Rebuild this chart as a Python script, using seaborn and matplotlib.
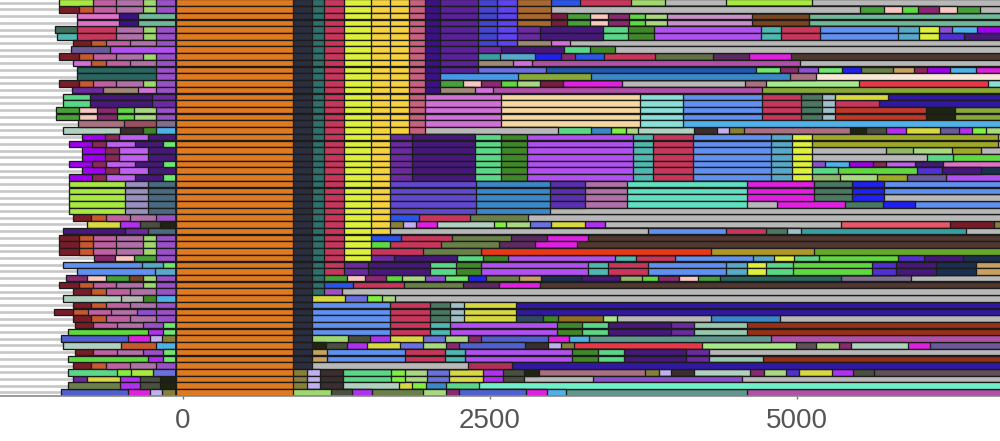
import numpy as np
import pandas as pd
import matplotlib.pyplot as plt
import seaborn as sns

palette = {
    "orange": "#e07a20", "dark": "#2a2e3e", "teal": "#2f6f6c", "crimson": "#c9365c",
    "ylime": "#dcf03c", "gold": "#f5d23e", "rose": "#c8607f", "indigo": "#3a1285",
    "purple": "#5a2298", "blue": "#4444d0", "blue2": "#5e44f0", "brown": "#a8682e",
    "royal": "#2a55e8", "lgreen": "#a0d870", "grey": "#b8b8b8", "ylgreen": "#a8e840",
    "mauve": "#b070a8", "plum": "#c060a0", "leftpurple": "#9a50c8", "rust": "#c85830",
    "darkred": "#7a1c28", "pink": "#e070c8", "tealgreen": "#70b898", "dksage": "#3f6f5a",
    "aqua": "#4fb8b0", "slate": "#6a5a9a", "violet": "#b050f0", "dkteal": "#2a6560",
    "orchid": "#d070d8", "taupe": "#a08878", "dkviolet": "#6a2aa0", "deep": "#45187a",
    "seagreen": "#5ad888", "lgreen2": "#a8d880", "lime": "#60d840", "magdk": "#8a2870",
    "palepink": "#f8c8c0", "green": "#48a038", "slategrey": "#807090", "brick": "#9a5060",
    "dusty": "#a87080", "sky": "#50b0e8", "dkgreen": "#3f8828", "dkbrown": "#3a2e2e",
    "pale": "#b0d0c0", "vivid": "#a000f0", "maroon": "#8a2858", "orchid2": "#c060f0",
    "bright": "#70e870", "slateteal": "#4a6a80", "lavgrey": "#9a90c0", "nearblack": "#1e2410",
    "dim": "#4a5040", "yellow": "#d8d840", "cornflower": "#6090f0", "skyteal": "#58a8c8",
    "magenta": "#e020e0", "olive": "#888038", "lavender": "#c0b0f0", "royal2": "#5060d0",
    "periw": "#6a70e0", "blime": "#80f040", "purple2": "#8a50d0", "brown2": "#7a4420",
    "plumdk": "#6a2c68", "vivid2": "#b030f0", "steel": "#3a88c8", "pureblue": "#2020f0",
    "olivegray": "#607048", "dkplum": "#5a2a60", "plumpurple": "#b050a8", "bluedeep": "#2058b0",
    "olivegreen": "#6a8048", "tan": "#c8a060", "skyblue": "#4898e8", "moss": "#88a838",
    "cream": "#f8e8d8", "red": "#e83848", "wheat": "#f4d8a0", "aqua2": "#88e0d8",
    "dksea": "#4a7860", "palebg": "#a0c0c8", "navy": "#3018a0", "brickred": "#c03828",
    "sage": "#90b868", "blueviol": "#5030d0", "navydk": "#1a3050", "oliveyel": "#a0a828",
    "mauve2": "#c890c8", "maroon2": "#781c40", "aquagreen": "#60e0c0", "blueviol2": "#6048d0",
    "indigo2": "#5830b0", "dkbrown2": "#503830", "salmon": "#e85868", "redor": "#e83818",
    "mustard": "#b09828", "green3": "#68a828", "teal3": "#38a0a0", "slatenavy": "#304860",
    "browngold": "#907020", "lgreen3": "#a8e888", "seateal": "#609890", "redbrown": "#983018",
    "greybrown": "#605058", "aquabright": "#70f0c8", "sagegreen": "#98c8b0", "crimson2": "#b03058",
    "dkolive": "#484030",
}

# --- left of the stack start, listed from the inside out
left_std = [("leftpurple", 158), ("lgreen", 109), ("mauve", 220), ("plum", 187), ("rust", 117), ("darkred", 160)]
left_short = [("leftpurple", 158), ("mauve", 212), ("plum", 196), ("rust", 122), ("darkred", 147)]
left_first = left_std[:4] + [("ylgreen", 274)]
left_pink = [("tealgreen", 310), ("indigo", 152), ("pink", 340)]
left_crim_a = left_std[:3] + [("crimson", 318), ("dksage", 174)]
left_crim_b = left_std[:3] + [("crimson", 318), ("aqua", 160)]
left_violet = [("violet", 533), ("slate", 321)]
left_orchid = left_short[:4] + [("orchid", 147)]
left_dkteal = [("leftpurple", 158), ("dkteal", 649)]
left_taupe = [("leftpurple", 158), ("orchid", 152), ("taupe", 285), ("dkviolet", 253)]
left_deep = [("dkviolet", 190), ("deep", 511), ("seagreen", 215)]
left_lime = [("leftpurple", 158), ("lgreen2", 182), ("lime", 136), ("magdk", 166), ("palepink", 149), ("green", 187)]
left_brick = [("slategrey", 158), ("brick", 261), ("dusty", 375)]
left_pale = [("sky", 158), ("dkgreen", 109), ("dkbrown", 190), ("pale", 459)]
left_vivid_a = [("deep", 226), ("orchid2", 239), ("maroon", 109), ("vivid", 185)]
left_vivid_b = [("bright", 103), ("deep", 231), ("orchid2", 236), ("maroon", 111), ("vivid", 185)]
left_yl = [("slateteal", 224), ("lavgrey", 185), ("ylgreen", 459)]
left_near = [("nearblack", 130), ("dim", 163), ("vivid2", 163), ("yellow", 269)]
left_slate = [("slateteal", 224), ("dkviolet", 185), ("deep", 511)]
left_mag = [("leftpurple", 158), ("green", 182), ("palepink", 152), ("magdk", 171)]
left_corn_a = [("bright", 103), ("skyteal", 174), ("cornflower", 638)]
left_corn_b = [("skyteal", 168), ("cornflower", 638)]
left_brown = [("leftpurple", 158), ("lgreen", 109), ("brown2", 114), ("green", 185), ("palepink", 158), ("magdk", 166)]
left_grey = [("sky", 158), ("dkgreen", 109), ("grey", 182), ("pale", 467)]
left_wide = [("leftpurple", 158), ("purple2", 155), ("mauve", 217), ("plum", 185), ("rust", 122), ("darkred", 155)]
left_bright = [("bright", 103), ("leftpurple", 163), ("mauve", 209), ("plum", 198), ("darkred", 147)]
left_bl = [("bright", 103), ("vivid2", 122), ("lime", 655)]
left_royal = [("olive", 111), ("lavender", 100), ("magenta", 177), ("royal2", 549)]
left_rust = [("sky", 158), ("rust", 291), ("pale", 467)]
left_periw = [("periw", 185), ("ylgreen", 182), ("blime", 109), ("seagreen", 399)]
left_near_b = left_near + [("dkviolet", 114)]
left_near_c = left_near[:3] + [("olivegreen", 418)]

left_rows = [
    left_first, left_std, left_pink, left_pink, left_crim_a, left_crim_b, left_short, left_violet,
    left_std, left_orchid, left_dkteal, left_dkteal, left_std, left_taupe, left_deep, left_deep,
    left_lime, left_lime, left_brick, left_pale, left_vivid_a, left_vivid_b, left_vivid_a, left_vivid_a,
    left_vivid_b, left_vivid_a, left_vivid_b, left_yl, left_yl, left_yl, left_yl, left_yl,
    left_short, left_near, left_slate, left_std, left_std, left_std, left_mag, left_corn_a,
    left_corn_b, left_brown, left_std, left_short, left_grey, left_short, left_wide, left_short,
    left_bright, left_bl, left_royal, left_rust, left_bright, left_bl, left_short, left_periw,
    left_near_b, left_near_c, left_royal,
]

# --- right of the stack start, first column is always the orange one
core_o = [("orange", 960), ("dark", 152)]
core_t = core_o + [("teal", 101)]
core_z = core_t + [("crimson", 163)]
core_y = core_z + [("ylime", 220)]
core_c = core_y + [("gold", 149)]
core_a = core_c + [("gold", 155), ("rose", 136)]
core_i = core_a + [("indigo", 117)]
core_p = core_i + [("purple", 315)]
core_b = core_p + [("blue", 152), ("blue2", 166)]

r00 = core_b + [("brown", 274), ("royal", 236), ("crimson", 418), ("lgreen", 272), ("grey", 503), ("ylgreen", 693), ("grey", 1549)]
r01 = core_b + [("brown", 274), ("grey", 2516), ("green", 193), ("palepink", 147), ("lime", 130), ("magdk", 171), ("palepink", 147), ("green", 193), ("grey", 174)]
r02 = core_b + [("brown", 274), ("maroon2", 128), ("green", 190), ("palepink", 144), ("magdk", 174), ("lime", 133), ("lgreen2", 177), ("mauve2", 693), ("brown2", 465), ("tealgreen", 1568)]
mid_045 = [("dkviolet", 185), ("deep", 508), ("seagreen", 204), ("dkgreen", 212), ("violet", 872), ("aqua", 168), ("crimson", 318), ("cornflower", 636), ("skyteal", 171), ("ylime", 160)]
r04 = core_b + mid_045 + [("purple2", 106), ("sky", 206), ("vivid", 198)]
r05 = core_b + mid_045 + [("blueviol", 206), ("deep", 304)]
r06 = core_b + [("taupe", 277), ("orchid", 155), ("grey", 3513)]
r07 = core_p + [("dkviolet", 185), ("deep", 508), ("seagreen", 212), ("dkgreen", 206), ("grey", 3152)]
r08 = core_p + [("teal3", 174), ("skyteal", 283), ("pureblue", 215), ("magdk", 111), ("royal", 242), ("crimson", 416), ("olivegray", 473), ("dkplum", 291), ("magenta", 342), ("dkbrown2", 1717)]
r09 = core_p + [("taupe", 285), ("orchid", 149), ("plumpurple", 2184), ("grey", 1644)]
r10 = core_p + [("periw", 554), ("bluedeep", 1706), ("bright", 198), ("magdk", 149), ("purple2", 163), ("bright", 193), ("pureblue", 152), ("olivegreen", 264), ("tan", 171), ("maroon", 109), ("vivid", 187), ("sky", 206), ("magenta", 209)]
r11 = core_i + [("skyblue", 641), ("moss", 590), ("steel", 1619), ("dusty", 212), ("cream", 1516)]
r12 = core_i + [("green", 185), ("palepink", 149), ("magdk", 166), ("lime", 133), ("lgreen2", 182), ("maroon2", 187), ("magenta", 486), ("grey", 1003), ("dusty", 168), ("lgreen3", 758), ("red", 1051), ("aqua2", 109)]
r13 = core_i + [("taupe", 288), ("orchid", 144), ("plumpurple", 2193), ("moss", 1954)]
block_wheat = core_a + [("orchid", 619), ("wheat", 1130), ("aqua2", 348)]
block_pale = block_wheat + [("cornflower", 647), ("crimson", 318), ("dksea", 168), ("palebg", 111)]
r14 = block_pale + [("yellow", 429), ("navy", 924)]
r15 = block_pale + [("crimson", 359), ("navy", 994)]
r16 = block_pale + [("brickred", 734), ("nearblack", 242), ("moss", 378)]
r18 = block_wheat + [("sky", 2597)]
r19 = core_a + [("grey", 1079), ("seagreen", 269), ("steel", 166), ("blime", 122), ("lgreen2", 100), ("pale", 454), ("dkbrown", 187), ("lavender", 98), ("olive", 117), ("dusty", 869), ("nearblack", 130), ("dim", 160), ("vivid2", 166), ("yellow", 272), ("slate", 155), ("vivid2", 109), ("blime", 117), ("lgreen2", 125)]
block_viol = core_c + [("dkviolet", 185), ("deep", 511), ("seagreen", 212), ("dkgreen", 209), ("violet", 869), ("aqua", 163), ("crimson", 323), ("cornflower", 638), ("skyteal", 168), ("ylime", 163)]
r20 = block_viol + [("oliveyel", 1516), ("grey", 60)]
r22 = block_viol + [("grey", 603), ("sage", 220), ("lgreen2", 315), ("oliveyel", 236), ("grey", 170)]
r23 = block_viol + [("grey", 937), ("seagreen", 212), ("lime", 394)]
r24 = block_viol + [("purple2", 109), ("sky", 196), ("vivid", 196), ("maroon", 106), ("orchid2", 236), ("deep", 228), ("pink", 473)]
r25 = block_viol + [("seagreen", 212), ("lime", 644), ("blueviol", 201), ("deep", 318), ("navydk", 168)]
r26 = block_viol + [("sage", 226), ("lgreen2", 304), ("oliveyel", 247), ("slate", 318), ("violet", 448)]
block_blue = core_c + [("blueviol2", 706), ("steel", 598)]
block_mauve = block_blue + [("indigo2", 288), ("mauve", 340), ("aquagreen", 981)]
block_mag = block_mauve + [("magenta", 543), ("dksea", 307), ("pureblue", 264)]
r27 = block_mag + [("cornflower", 959)]
r29 = block_mag + [("grey", 959)]
r30 = block_mauve + [("grey", 245), ("magenta", 549), ("dksea", 312), ("pureblue", 261), ("cornflower", 706)]
r31 = block_blue + [("grey", 3682)]
r32 = core_c + [("royal", 242), ("crimson", 413), ("olivegreen", 475), ("grey", 3855)]
r33 = core_c + [("olive", 111), ("lavender", 106), ("magenta", 168), ("pale", 462), ("blime", 103), ("lgreen2", 190), ("periw", 177), ("yellow", 274), ("vivid2", 163), ("grey", 1924), ("salmon", 891), ("darkred", 353), ("olive", 62)]
r34 = core_c + [("grey", 2106), ("cornflower", 638), ("crimson", 326), ("dksea", 168), ("palebg", 114), ("teal3", 1345), ("grey", 288)]
r35 = core_y + [("royal", 239), ("crimson", 421), ("olivegreen", 475), ("dkplum", 293), ("magenta", 340), ("dkbrown2", 3369)]
r36 = core_y + [("lime", 152), ("crimson", 416), ("olivegreen", 475), ("dkplum", 293), ("magenta", 342), ("dkbrown2", 3459)]
r37 = core_y + [("crimson", 418), ("olivegreen", 473), ("redor", 1875), ("mustard", 842), ("green3", 1530)]
r38 = core_y + [("dkviolet", 185), ("deep", 516), ("seagreen", 206), ("dkgreen", 206), ("violet", 872), ("aqua", 171), ("crimson", 318), ("cornflower", 638), ("skyteal", 168), ("ylime", 163), ("seagreen", 204), ("lime", 644), ("blueviol", 215), ("deep", 318), ("navydk", 312)]
r39 = core_z + [("dkviolet", 190), ("deep", 508), ("seagreen", 209), ("dkgreen", 209), ("violet", 872), ("aqua", 163), ("crimson", 323), ("cornflower", 638), ("skyteal", 168), ("ylime", 158), ("seagreen", 215), ("lime", 644), ("blueviol", 201), ("deep", 321), ("navydk", 329), ("tan", 200)]
r41 = core_t + [("green", 182), ("palepink", 147), ("magdk", 171), ("lime", 130), ("lgreen2", 187), ("purple2", 166), ("bright", 190), ("pureblue", 144), ("olivegreen", 269), ("tan", 179), ("navydk", 323), ("deep", 321), ("sage", 177), ("lime", 136), ("magdk", 168), ("palepink", 152), ("green", 185), ("dkteal", 986), ("slategrey", 565), ("grey", 739)]
r42 = core_t + [("royal", 236), ("crimson", 416), ("olivegreen", 475), ("dkplum", 293), ("magenta", 340), ("dkbrown2", 3758)]
r43 = core_t + [("leftpurple", 144), ("grey", 5374)]
r44 = core_o + [("yellow", 272), ("periw", 177), ("blime", 117), ("lgreen2", 109), ("grey", 4945)]
block_corn = core_o + [("cornflower", 638), ("crimson", 321)]
block_yel = block_corn + [("dksea", 168), ("palebg", 109), ("yellow", 429)]
r45 = block_yel + [("navy", 3953)]
r47 = block_yel + [("slatenavy", 217), ("dkgreen", 122), ("browngold", 370), ("lgreen3", 111), ("grey", 769), ("steel", 557), ("grey", 1807)]
r48 = block_corn + [("aqua", 163), ("violet", 875), ("dkgreen", 204), ("seagreen", 209), ("deep", 519), ("dkviolet", 182), ("sagegreen", 435), ("redbrown", 2073)]
r50 = core_o + [("lgreen", 296), ("dim", 174), ("vivid2", 163), ("yellow", 272), ("periw", 182), ("lgreen2", 182), ("magdk", 109), ("royal2", 546), ("magenta", 171), ("sky", 158), ("seateal", 1483), ("plumpurple", 1883)]
r51 = core_o + [("nearblack", 117), ("dim", 168), ("vivid2", 163), ("yellow", 272), ("periw", 185), ("lgreen2", 185), ("magdk", 106), ("royal2", 543), ("dkbrown", 185), ("lavender", 106), ("olive", 106), ("red", 1043), ("lgreen3", 763), ("greybrown", 166), ("lgreen2", 187), ("magdk", 100), ("pale", 462), ("magenta", 177), ("slate", 584)]
block_tan = core_o + [("tan", 122), ("cornflower", 638), ("crimson", 323), ("aqua", 163), ("violet", 872), ("dkgreen", 215), ("seagreen", 206), ("deep", 508), ("dkviolet", 190)]
r52 = block_tan + [("grey", 2380)]
r53 = block_tan + [("sagegreen", 435), ("redbrown", 1945)]
r54 = core_o + [("grey", 1272), ("crimson2", 359), ("navy", 3989)]
core_ol = [("orange", 960), ("olive", 111), ("lavender", 103), ("dkbrown", 190)]
block_tg = core_ol + [("seagreen", 394), ("blime", 109), ("lgreen2", 185), ("periw", 179), ("yellow", 277), ("vivid2", 158), ("dim", 174)]
r55 = block_tg + [("nearblack", 125), ("dusty", 864), ("olive", 114), ("lavender", 95), ("dkbrown", 190), ("pale", 456), ("magdk", 109), ("lgreen2", 182), ("blueviol", 109), ("yellow", 264), ("vivid2", 174), ("dim", 168), ("greybrown", 1043)]
r56 = block_tg + [("grey", 562), ("purple2", 1217), ("grey", 2114)]
r57 = core_ol + [("pale", 454), ("yellow", 109), ("blime", 117), ("steel", 160), ("seagreen", 269), ("aquabright", 4260)]
r58 = [("orange", 960), ("lgreen", 310), ("dim", 166), ("vivid2", 163), ("olivegreen", 421), ("lgreen2", 185), ("magdk", 106), ("royal2", 543), ("magenta", 171), ("sky", 160), ("seateal", 1475), ("plumpurple", 2073)]

right_rows = [
    r00, r01, r02, r02, r04, r05, r06, r07, r08, r09, r10, r11, r12, r13, r14, r15, r16, r16, r18, r19,
    r20, r20, r22, r23, r24, r25, r26, r27, r27, r29, r30, r31, r32, r33, r34, r35, r36, r37, r38, r39,
    r39, r41, r42, r43, r44, r45, r45, r47, r48, r48, r50, r51, r52, r53, r54, r55, r56, r57, r58,
]

tick_values = [0, 2500, 5000]
stack_start = -60


def long_table(rows, sign):
    recs = []
    for i, segs in enumerate(rows):
        ends = np.cumsum([s[1] for s in segs])
        for k, (seg, end) in enumerate(zip(segs, ends)):
            recs.append({"row": i, "layer": k, "category": seg[0], "end": sign * end})
    return pd.DataFrame(recs)


sns.set_theme(style="whitegrid")
plt.rcParams["font.family"] = "Liberation Sans"

fig = plt.figure(figsize=(10, 4.41), dpi=100)
ax = fig.add_axes([0, 45 / 441, 1, 396 / 441])
ax.set_axisbelow(True)

row_order = list(range(len(right_rows)))

# stacked bars: longest layer first, each next layer paints over the one before
for table in [long_table(left_rows, -1), long_table(right_rows, 1)]:
    for layer in sorted(table["layer"].unique(), reverse=True):
        sub = table[table["layer"] == layer]
        sns.barplot(data=sub, x="end", y="row", hue="category", palette=palette,
                    order=row_order, orient="h", dodge=False, width=0.97, saturation=1,
                    left=stack_start, errorbar=None, edgecolor="#1c1c1c", linewidth=0.95,
                    legend=False, ax=ax)

ax.set_xlim(-1491, 6658)
ax.set_ylim(58.53, -0.40)
ax.set_xlabel("")
ax.set_ylabel("")
ax.set_xticks(tick_values)
ax.set_xticklabels([str(v) for v in tick_values])
ax.xaxis.grid(False)
ax.yaxis.grid(True, color="#c6c6c6", linewidth=1.9)
ax.tick_params(axis="y", left=False, labelleft=False)
ax.tick_params(axis="x", bottom=True, length=2.5, width=1, color="#777777",
               labelsize=20, labelcolor="#555555", pad=6)
for side in ["left", "right", "top"]:
    ax.spines[side].set_visible(False)
ax.spines["bottom"].set_color("#888888")
ax.spines["bottom"].set_linewidth(1.2)

fig.savefig("out.png", dpi=100)
